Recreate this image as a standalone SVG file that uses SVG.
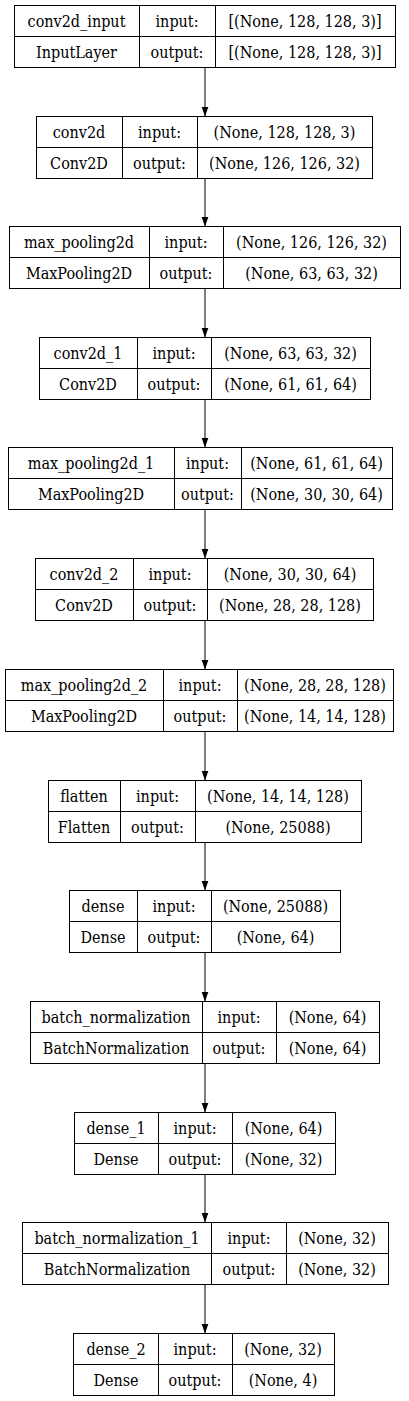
<svg xmlns="http://www.w3.org/2000/svg" width="409" height="1401" viewBox="0 0 409 1401" font-family="DejaVu Serif Condensed, DejaVu Serif, serif">
<style>
.b{fill:none;stroke:#000;stroke-width:1}
.t{font-size:16px;font-stretch:condensed;text-anchor:middle;fill:#000}
.c{stroke:#000;stroke-width:1;fill:none}
</style>
<defs>
<marker id="ah" markerUnits="userSpaceOnUse" markerWidth="10" markerHeight="8" refX="10" refY="3.5" orient="auto">
<path d="M0,0 L10,3.5 L0,7 z" fill="#000"/>
</marker>
</defs>
<rect width="409" height="1401" fill="#fff"/>
<g id="connectors">
<line class="c" x1="205" y1="67.5" x2="205" y2="116.5" marker-end="url(#ah)"/>
<line class="c" x1="205" y1="178.5" x2="205" y2="226.5" marker-end="url(#ah)"/>
<line class="c" x1="205" y1="288.5" x2="205" y2="337.5" marker-end="url(#ah)"/>
<line class="c" x1="205" y1="399.5" x2="205" y2="447.5" marker-end="url(#ah)"/>
<line class="c" x1="205" y1="509.5" x2="205" y2="558.5" marker-end="url(#ah)"/>
<line class="c" x1="205" y1="620.5" x2="205" y2="669.5" marker-end="url(#ah)"/>
<line class="c" x1="205" y1="731.5" x2="205" y2="780.5" marker-end="url(#ah)"/>
<line class="c" x1="205" y1="842.5" x2="205" y2="890.5" marker-end="url(#ah)"/>
<line class="c" x1="205" y1="952.5" x2="205" y2="1001.5" marker-end="url(#ah)"/>
<line class="c" x1="205" y1="1063.5" x2="205" y2="1112.5" marker-end="url(#ah)"/>
<line class="c" x1="205" y1="1174.5" x2="205" y2="1222.5" marker-end="url(#ah)"/>
<line class="c" x1="205" y1="1284.5" x2="205" y2="1333.5" marker-end="url(#ah)"/>
</g>
<g id="conv2d_input">
<rect class="b" x="14.5" y="5.5" width="381" height="62"/>
<path class="b" d="M139.5,5.5V67.5M215.5,5.5V67.5M14.5,36.5H395.5"/>
<text class="t" x="76.5" y="27">conv2d_input</text><text class="t" x="177" y="27">input:</text><text class="t" x="305" y="27">[(None, 128, 128, 3)]</text>
<text class="t" x="76.5" y="58">InputLayer</text><text class="t" x="177" y="58">output:</text><text class="t" x="305" y="58">[(None, 128, 128, 3)]</text>
</g>
<g id="conv2d">
<rect class="b" x="36.5" y="116.5" width="336" height="62"/>
<path class="b" d="M122.5,116.5V178.5M197.5,116.5V178.5M36.5,147.5H372.5"/>
<text class="t" x="79" y="138">conv2d</text><text class="t" x="159.5" y="138">input:</text><text class="t" x="284.5" y="138">(None, 128, 128, 3)</text>
<text class="t" x="79" y="169">Conv2D</text><text class="t" x="159.5" y="169">output:</text><text class="t" x="284.5" y="169">(None, 126, 126, 32)</text>
</g>
<g id="max_pooling2d">
<rect class="b" x="9.5" y="226.5" width="391" height="62"/>
<path class="b" d="M149.5,226.5V288.5M223.5,226.5V288.5M9.5,257.5H400.5"/>
<text class="t" x="79" y="248">max_pooling2d</text><text class="t" x="186" y="248">input:</text><text class="t" x="311.5" y="248">(None, 126, 126, 32)</text>
<text class="t" x="79" y="279">MaxPooling2D</text><text class="t" x="186" y="279">output:</text><text class="t" x="311.5" y="279">(None, 63, 63, 32)</text>
</g>
<g id="conv2d_1">
<rect class="b" x="39.5" y="337.5" width="331" height="62"/>
<path class="b" d="M137.5,337.5V399.5M211.5,337.5V399.5M39.5,368.5H370.5"/>
<text class="t" x="88" y="359">conv2d_1</text><text class="t" x="174" y="359">input:</text><text class="t" x="290.5" y="359">(None, 63, 63, 32)</text>
<text class="t" x="88" y="390">Conv2D</text><text class="t" x="174" y="390">output:</text><text class="t" x="290.5" y="390">(None, 61, 61, 64)</text>
</g>
<g id="max_pooling2d_1">
<rect class="b" x="8.5" y="447.5" width="384" height="62"/>
<path class="b" d="M174.5,447.5V509.5M241.5,447.5V509.5M8.5,478.5H392.5"/>
<text class="t" x="91" y="469">max_pooling2d_1</text><text class="t" x="207.5" y="469">input:</text><text class="t" x="316.5" y="469">(None, 61, 61, 64)</text>
<text class="t" x="91" y="500">MaxPooling2D</text><text class="t" x="207.5" y="500">output:</text><text class="t" x="316.5" y="500">(None, 30, 30, 64)</text>
</g>
<g id="conv2d_2">
<rect class="b" x="35.5" y="558.5" width="338" height="62"/>
<path class="b" d="M133.5,558.5V620.5M207.5,558.5V620.5M35.5,589.5H373.5"/>
<text class="t" x="84" y="580">conv2d_2</text><text class="t" x="170" y="580">input:</text><text class="t" x="290" y="580">(None, 30, 30, 64)</text>
<text class="t" x="84" y="611">Conv2D</text><text class="t" x="170" y="611">output:</text><text class="t" x="290" y="611">(None, 28, 28, 128)</text>
</g>
<g id="max_pooling2d_2">
<rect class="b" x="5.5" y="669.5" width="388" height="62"/>
<path class="b" d="M163.5,669.5V731.5M237.5,669.5V731.5M5.5,700.5H393.5"/>
<text class="t" x="84" y="691">max_pooling2d_2</text><text class="t" x="200" y="691">input:</text><text class="t" x="315" y="691">(None, 28, 28, 128)</text>
<text class="t" x="84" y="722">MaxPooling2D</text><text class="t" x="200" y="722">output:</text><text class="t" x="315" y="722">(None, 14, 14, 128)</text>
</g>
<g id="flatten">
<rect class="b" x="48.5" y="780.5" width="313" height="62"/>
<path class="b" d="M120.5,780.5V842.5M195.5,780.5V842.5M48.5,811.5H361.5"/>
<text class="t" x="84" y="802">flatten</text><text class="t" x="157.5" y="802">input:</text><text class="t" x="278" y="802">(None, 14, 14, 128)</text>
<text class="t" x="84" y="833">Flatten</text><text class="t" x="157.5" y="833">output:</text><text class="t" x="278" y="833">(None, 25088)</text>
</g>
<g id="dense">
<rect class="b" x="69.5" y="890.5" width="271" height="62"/>
<path class="b" d="M137.5,890.5V952.5M211.5,890.5V952.5M69.5,921.5H340.5"/>
<text class="t" x="103" y="912">dense</text><text class="t" x="174" y="912">input:</text><text class="t" x="275.5" y="912">(None, 25088)</text>
<text class="t" x="103" y="943">Dense</text><text class="t" x="174" y="943">output:</text><text class="t" x="275.5" y="943">(None, 64)</text>
</g>
<g id="batch_normalization">
<rect class="b" x="30.5" y="1001.5" width="349" height="62"/>
<path class="b" d="M202.5,1001.5V1063.5M276.5,1001.5V1063.5M30.5,1032.5H379.5"/>
<text class="t" x="116" y="1023">batch_normalization</text><text class="t" x="239" y="1023">input:</text><text class="t" x="327.5" y="1023">(None, 64)</text>
<text class="t" x="116" y="1054">BatchNormalization</text><text class="t" x="239" y="1054">output:</text><text class="t" x="327.5" y="1054">(None, 64)</text>
</g>
<g id="dense_1">
<rect class="b" x="74.5" y="1112.5" width="261" height="62"/>
<path class="b" d="M158.5,1112.5V1174.5M232.5,1112.5V1174.5M74.5,1143.5H335.5"/>
<text class="t" x="116" y="1134">dense_1</text><text class="t" x="195" y="1134">input:</text><text class="t" x="283.5" y="1134">(None, 64)</text>
<text class="t" x="116" y="1165">Dense</text><text class="t" x="195" y="1165">output:</text><text class="t" x="283.5" y="1165">(None, 32)</text>
</g>
<g id="batch_normalization_1">
<rect class="b" x="22.5" y="1222.5" width="366" height="62"/>
<path class="b" d="M211.5,1222.5V1284.5M286.5,1222.5V1284.5M22.5,1253.5H388.5"/>
<text class="t" x="117" y="1244">batch_normalization_1</text><text class="t" x="249" y="1244">input:</text><text class="t" x="337" y="1244">(None, 32)</text>
<text class="t" x="117" y="1275">BatchNormalization</text><text class="t" x="249" y="1275">output:</text><text class="t" x="337" y="1275">(None, 32)</text>
</g>
<g id="dense_2">
<rect class="b" x="73.5" y="1333.5" width="261" height="62"/>
<path class="b" d="M158.5,1333.5V1395.5M232.5,1333.5V1395.5M73.5,1364.5H334.5"/>
<text class="t" x="116" y="1355">dense_2</text><text class="t" x="195" y="1355">input:</text><text class="t" x="283" y="1355">(None, 32)</text>
<text class="t" x="116" y="1386">Dense</text><text class="t" x="195" y="1386">output:</text><text class="t" x="283" y="1386">(None, 4)</text>
</g>
</svg>
